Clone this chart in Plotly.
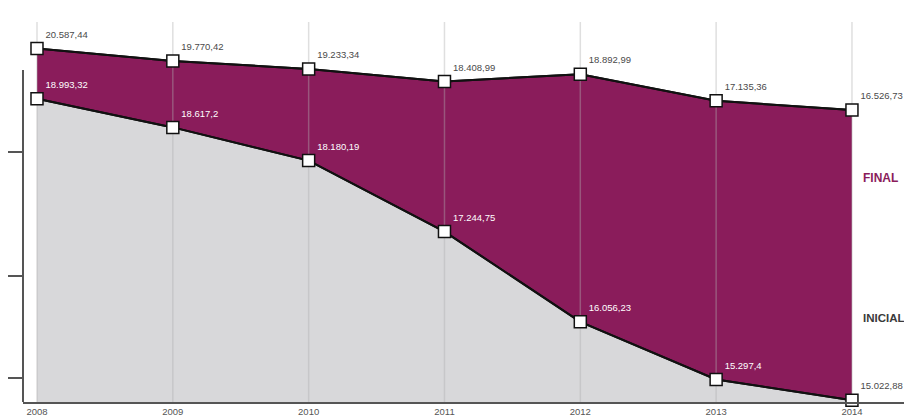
import plotly.graph_objects as go

# ---- data ----
years = [2008, 2009, 2010, 2011, 2012, 2013, 2014]
year_labels = ["2008", "2009", "2010", "2011", "2012", "2013", "2014"]
final_vals = [20587.44, 19770.42, 19233.34, 18408.99, 18892.99, 17135.36, 16526.73]
inicial_vals = [18993.32, 18617.2, 18180.19, 17244.75, 16056.23, 15297.4, 15022.88]
final_labels = ["20.587,44", "19.770,42", "19.233,34", "18.408,99", "18.892,99", "17.135,36", "16.526,73"]
inicial_labels = ["18.993,32", "18.617,2", "18.180,19", "17.244,75", "16.056,23", "15.297,4", "15.022,88"]
y_ticks = [18293, 16660, 15316]

# ---- styling / scales ----
PURPLE = "#8a1c5b"
GRAY_FILL = "#d8d8da"
AXIS = "#555555"
X_RANGE = [2007.897, 2014.442]
FINAL_RANGE = [-2722, 23257]
INICIAL_RANGE = [15000, 20190]
GRID_TOP = 0.9645

fig = go.Figure()

# purple area (final) down to bottom of plot
fig.add_trace(go.Scatter(x=years, y=[FINAL_RANGE[0]] * len(years), mode="lines",
                         line=dict(width=0), hoverinfo="skip", showlegend=False, yaxis="y"))
fig.add_trace(go.Scatter(x=years, y=final_vals, mode="lines", fill="tonexty",
                         fillcolor=PURPLE, line=dict(color="#111111", width=2),
                         showlegend=False, yaxis="y"))

# gray area (inicial)
fig.add_trace(go.Scatter(x=years, y=inicial_vals, mode="lines", fill="tozeroy",
                         fillcolor=GRAY_FILL, line=dict(color="#111111", width=2),
                         showlegend=False, yaxis="y2"))

# vertical gridlines
g_top = INICIAL_RANGE[0] + GRID_TOP * (INICIAL_RANGE[1] - INICIAL_RANGE[0])
gx, gy = [], []
for yr in years:
    gx += [yr, yr, None]
    gy += [g_top, INICIAL_RANGE[0], None]
fig.add_trace(go.Scatter(x=gx, y=gy, mode="lines",
                         line=dict(color="rgba(175,175,175,0.4)", width=1.5),
                         hoverinfo="skip", showlegend=False, yaxis="y2"))

label_font = "Liberation Sans"

# final line + markers + labels
fig.add_trace(go.Scatter(x=years, y=final_vals, mode="lines+markers+text",
                         line=dict(color="#111111", width=2),
                         marker=dict(symbol="square", size=12, color="white",
                                     line=dict(color="#111111", width=1.5)),
                         text=final_labels, textposition="top right",
                         textfont=dict(family=label_font, size=9.5, color="#4a4a4a"),
                         cliponaxis=False, showlegend=False, yaxis="y3"))

# inicial line + markers + labels
inicial_text_colors = ["white"] * (len(years) - 1) + ["#4a4a4a"]
fig.add_trace(go.Scatter(x=years, y=inicial_vals, mode="lines+markers+text",
                         line=dict(color="#111111", width=2),
                         marker=dict(symbol="square", size=12, color="white",
                                     line=dict(color="#111111", width=1.5)),
                         text=inicial_labels, textposition="top right",
                         textfont=dict(family=label_font, size=9.5, color=inicial_text_colors),
                         cliponaxis=False, showlegend=False, yaxis="y4"))

# page body has an 8px margin: the figure is sized to fit the remaining window
fig.update_layout(
    width=904, height=408,
    margin=dict(l=15, r=0, t=0, b=14, autoexpand=False),
    paper_bgcolor="white", plot_bgcolor="white",
    xaxis=dict(range=X_RANGE, tickvals=years, ticktext=year_labels,
               tickfont=dict(family=label_font, size=9.5, color=AXIS),
               showgrid=False, zeroline=False, showline=True, automargin=False,
               linecolor=AXIS, linewidth=2, ticks="", ticklen=0),
    yaxis=dict(range=FINAL_RANGE, visible=False, showgrid=False, zeroline=False),
    yaxis2=dict(range=INICIAL_RANGE, overlaying="y", side="left", anchor="x",
                tickvals=y_ticks, showticklabels=False, ticks="outside",
                ticklen=15, tickwidth=2, tickcolor=AXIS, automargin=False,
                showgrid=False, zeroline=False, showline=False),
    yaxis3=dict(range=FINAL_RANGE, overlaying="y", visible=False),
    yaxis4=dict(range=INICIAL_RANGE, overlaying="y", visible=False),
    shapes=[dict(type="line", xref="paper", yref="paper", x0=0, x1=0,
                 y0=0, y1=0.8426, line=dict(color=AXIS, width=2))],
    annotations=[
        dict(text="<b>FINAL</b>", xref="x", yref="paper", x=2014.07, y=0.5685,
             showarrow=False, xanchor="left",
             font=dict(family=label_font, size=12, color=PURPLE)),
        dict(text="<b>INICIAL</b>", xref="x", yref="paper", x=2014.07, y=0.193,
             showarrow=False, xanchor="left",
             font=dict(family=label_font, size=11.5, color="#3a3a3a")),
    ],
)

fig.write_html("out.html")
